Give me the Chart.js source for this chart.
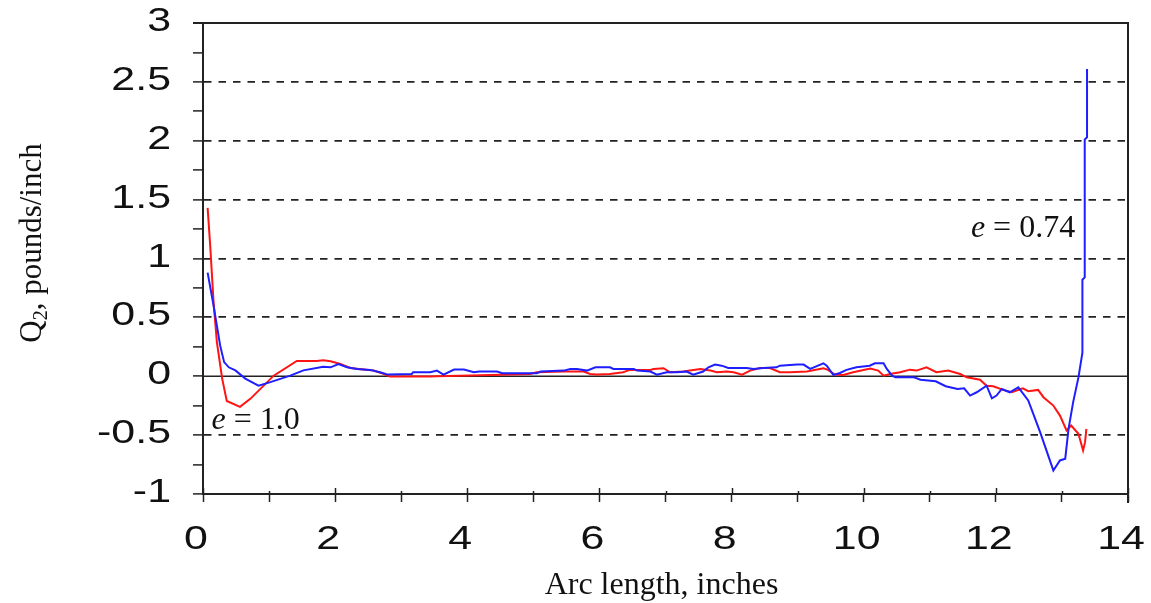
<!DOCTYPE html>
<html>
<head>
<meta charset="utf-8">
<script src="https://cdn.jsdelivr.net/npm/chart.js@4.4.1/dist/chart.umd.min.js"></script>
<style>
    html, body { margin: 0; padding: 0; background: #fff; }
    #wrap { width: 1151px; height: 603px; position: relative; }
</style>
</head>
<body>
<div id="wrap"><canvas id="q2-chart"></canvas></div>
<script>
// e = 0.74 curve (blue)
const blueX = [0.07, 0.16, 0.21, 0.26, 0.32, 0.39, 0.49, 0.64, 0.84, 1.02, 1.32, 1.52, 1.82, 1.93, 2.05, 2.18,
    2.33, 2.53, 2.68, 2.80, 3.16, 3.18, 3.44, 3.54, 3.64, 3.80, 3.95, 4.10, 4.18, 4.45, 4.53, 5.05, 5.11, 5.46,
    5.56, 5.66, 5.81, 5.94, 6.16, 6.21, 6.52, 6.57, 6.77, 6.87, 7.02, 7.17, 7.32, 7.42, 7.57, 7.65, 7.75, 7.85,
    7.95, 8.23, 8.33, 8.48, 8.68, 8.73, 8.99, 9.09, 9.19, 9.39, 9.44, 9.54, 9.64, 9.74, 9.89, 10.09, 10.17, 10.30,
    10.35, 10.43, 10.48, 10.76, 10.86, 11.09, 11.24, 11.42, 11.52, 11.61, 11.71, 11.86, 11.94, 12.01, 12.09,
    12.21, 12.34, 12.49, 12.67, 12.87, 12.97, 13.05, 13.10, 13.17, 13.25, 13.31, 13.31, 13.345, 13.345, 13.38, 13.38];
const blueY = [0.88, 0.60, 0.43, 0.26, 0.12, 0.076, 0.05, -0.02, -0.08, -0.05, 0.005, 0.05, 0.08, 0.076, 0.104, 0.076,
    0.062, 0.054, 0.034, 0.014, 0.02, 0.034, 0.034, 0.048, 0.014, 0.057, 0.057, 0.034, 0.04, 0.04, 0.025, 0.025, 0.04, 0.048,
    0.062, 0.062, 0.048, 0.076, 0.076, 0.062, 0.062, 0.048, 0.04, 0.014, 0.034, 0.034, 0.04, 0.014, 0.04, 0.076, 0.099, 0.09,
    0.07, 0.07, 0.062, 0.07, 0.076, 0.09, 0.099, 0.099, 0.062, 0.11, 0.09, 0.012, 0.028, 0.054, 0.076, 0.09, 0.11, 0.11,
    0.062, 0.005, -0.009, -0.009, -0.029, -0.043, -0.085, -0.108, -0.102, -0.164, -0.136, -0.08, -0.187, -0.164, -0.108,
    -0.136, -0.094, -0.206, -0.475, -0.80, -0.715, -0.70, -0.447, -0.22, -0.01, 0.20, 0.82, 0.84, 2.01, 2.03, 2.61];

// e = 1.0 curve (red)
const redX = [0.07, 0.11, 0.16, 0.21, 0.29, 0.36, 0.56, 0.72, 1.07, 1.42, 1.72, 1.82, 1.93, 2.08, 2.23, 2.43, 2.58,
    2.73, 2.83, 3.44, 3.54, 4.05, 4.95, 5.05, 5.46, 5.76, 5.86, 5.96, 6.16, 6.36, 6.46, 6.77, 6.82, 6.97, 7.07, 7.27,
    7.37, 7.53, 7.68, 7.78, 7.93, 8.03, 8.16, 8.28, 8.43, 8.58, 8.73, 8.88, 9.14, 9.39, 9.46, 9.56, 9.69, 9.84, 10.10,
    10.22, 10.30, 10.40, 10.55, 10.70, 10.80, 10.95, 11.10, 11.28, 11.46, 11.56, 11.76, 11.86, 11.96, 12.11, 12.24,
    12.41, 12.49, 12.64, 12.72, 12.87, 12.97, 13.07, 13.14, 13.25, 13.32, 13.35, 13.37];
const redY = [1.43, 1.10, 0.63, 0.29, -0.02, -0.21, -0.26, -0.19, 0.005, 0.13, 0.13, 0.135, 0.127, 0.104, 0.07, 0.057, 0.048,
    0.02, -0.003, -0.003, 0, 0.006, 0.02, 0.034, 0.04, 0.04, 0.02, 0.014, 0.02, 0.034, 0.054, 0.054, 0.062, 0.068, 0.034, 0.04,
    0.048, 0.062, 0.048, 0.034, 0.04, 0.034, 0.014, 0.048, 0.07, 0.07, 0.034, 0.034, 0.04, 0.068, 0.054, 0.014, 0.011, 0.034, 0.065,
    0.048, 0.005, 0.019, 0.034, 0.056, 0.048, 0.076, 0.034, 0.048, 0.019, -0.009, -0.029, -0.08, -0.085, -0.116, -0.136,
    -0.102, -0.127, -0.116, -0.178, -0.249, -0.334, -0.46, -0.418, -0.489, -0.63, -0.56, -0.447];

// tick labels
const yTickValues = [-1, -0.5, 0, 0.5, 1, 1.5, 2, 2.5, 3];
const xTickValues = [0, 2, 4, 6, 8, 10, 12, 14];

const xTitle = 'Arc length, inches';
const yTitleMain = 'Q';
const yTitleSub = '2';
const yTitleRest = ', pounds/inch';

const SANS = '"Liberation Sans", Arial, sans-serif';
const SERIF = '"Liberation Serif", "Times New Roman", serif';

function toPoints(xs, ys) {
    return xs.map((x, i) => ({ x: x, y: ys[i] }));
}

function isHalf(v) {
    return Math.round(v * 4) % 2 === 0;
}

function drawELabel(ctx, rest, px, py, alignRight) {
    ctx.font = 'italic 32px ' + SERIF;
    const we = ctx.measureText('e').width;
    ctx.font = '32px ' + SERIF;
    const wr = ctx.measureText(rest).width;
    const left = alignRight ? px - we - wr : px;
    ctx.font = 'italic 32px ' + SERIF;
    ctx.fillText('e', left, py);
    ctx.font = '32px ' + SERIF;
    ctx.fillText(rest, left + we, py);
}

// draws the frame, zero line and all the text
const framePlugin = {
    id: 'framePlugin',
    beforeDatasetsDraw(chart) {
        const { ctx, chartArea: a, scales: { x, y } } = chart;
        ctx.save();
        // zero line
        const y0 = y.getPixelForValue(0);
        ctx.strokeStyle = '#222';
        ctx.lineWidth = 1.6;
        ctx.beginPath();
        ctx.moveTo(a.left, y0);
        ctx.lineTo(a.right, y0);
        ctx.stroke();
        // top and right border
        ctx.strokeStyle = '#222';
        ctx.lineWidth = 2;
        ctx.beginPath();
        ctx.moveTo(a.left - 10, a.top);
        ctx.lineTo(a.right, a.top);
        ctx.lineTo(a.right, a.bottom + 9);
        ctx.stroke();
        // inner parts of the x ticks
        ctx.lineWidth = 1.5;
        x.ticks.forEach(t => {
            const px = Math.round(x.getPixelForValue(t.value)) + 0.5;
            const len = t.value % 2 === 0 ? 6 : 3;
            ctx.beginPath();
            ctx.moveTo(px, a.bottom);
            ctx.lineTo(px, a.bottom - len);
            ctx.stroke();
        });
        ctx.restore();
    },
    afterDraw(chart) {
        const { ctx, chartArea: a, scales: { x, y } } = chart;
        ctx.save();
        ctx.fillStyle = '#111';
        ctx.font = '33px ' + SANS;
        ctx.textBaseline = 'middle';

        // y tick labels (wide sans, stretched like the original)
        ctx.textAlign = 'right';
        yTickValues.forEach(v => {
            ctx.save();
            ctx.translate(171, y.getPixelForValue(v) - 1);
            ctx.scale(1.3, 1);
            ctx.fillText(String(v), 0, 0);
            ctx.restore();
        });

        // x tick labels
        ctx.textAlign = 'center';
        xTickValues.forEach(v => {
            ctx.save();
            ctx.translate(x.getPixelForValue(v) - 7, 540);
            ctx.scale(1.3, 1);
            ctx.fillText(String(v), 0, 0);
            ctx.restore();
        });

        // x title
        ctx.textBaseline = 'alphabetic';
        ctx.font = '32px ' + SERIF;
        ctx.textAlign = 'center';
        ctx.fillText(xTitle, (a.left + a.right) / 2 - 4, 594);

        // y title with subscript
        ctx.textAlign = 'left';
        ctx.translate(41, 243);
        ctx.rotate(-Math.PI / 2);
        ctx.font = '31px ' + SERIF;
        const wQ = ctx.measureText(yTitleMain).width;
        const wRest = ctx.measureText(yTitleRest).width;
        ctx.font = '20px ' + SERIF;
        const wSub = ctx.measureText(yTitleSub).width;
        const start = -(wQ + wSub + wRest) / 2;
        ctx.font = '31px ' + SERIF;
        ctx.fillText(yTitleMain, start, 0);
        ctx.font = '20px ' + SERIF;
        ctx.fillText(yTitleSub, start + wQ, 6);
        ctx.font = '31px ' + SERIF;
        ctx.fillText(yTitleRest, start + wQ + wSub, 0);
        ctx.restore();

        // curve labels
        ctx.save();
        ctx.fillStyle = '#111';
        ctx.textBaseline = 'alphabetic';
        ctx.textAlign = 'left';
        drawELabel(ctx, ' = 1.0', x.getPixelForValue(0.13), y.getPixelForValue(-0.45), false);
        drawELabel(ctx, ' = 0.74', x.getPixelForValue(13.2), y.getPixelForValue(1.18), true);
        ctx.restore();
    }
};

const ctx = document.getElementById('q2-chart').getContext('2d');
const q2Chart = new Chart(ctx, {
    type: 'line',
    data: {
        datasets: [
            {
                label: 'e = 0.74',
                data: toPoints(blueX, blueY),
                borderColor: 'rgb(30, 30, 255)',
                borderWidth: 2,
                pointRadius: 0,
                tension: 0
            },
            {
                label: 'e = 1.0',
                data: toPoints(redX, redY),
                borderColor: 'rgb(255, 20, 20)',
                borderWidth: 2,
                pointRadius: 0,
                tension: 0
            }
        ]
    },
    options: {
        responsive: true,
        maintainAspectRatio: false,
        animation: false,
        layout: {
            padding: { left: 193, right: 23, top: 23, bottom: 101 }
        },
        plugins: {
            legend: { display: false },
            tooltip: { enabled: false }
        },
        scales: {
            x: {
                type: 'linear',
                min: 0,
                max: 14,
                ticks: { display: false, stepSize: 1 },
                grid: {
                    drawOnChartArea: false,
                    tickLength: 8,
                    tickWidth: 1.5,
                    tickColor: '#222'
                },
                border: { color: '#222', width: 2 }
            },
            y: {
                type: 'linear',
                min: -1,
                max: 3,
                ticks: { display: false, stepSize: 0.25 },
                grid: {
                    color: function(context) {
                        const v = context.tick ? context.tick.value : 0;
                        if (!isHalf(v) || Math.abs(v) < 1e-6 || v >= 3 || v <= -1) {
                            return 'rgba(0,0,0,0)';
                        }
                        return '#222';
                    },
                    lineWidth: 1.8,
                    tickLength: 10,
                    tickWidth: 1.5,
                    tickColor: '#222'
                },
                border: { color: '#222', width: 2, dash: [7.5, 7] }
            }
        }
    },
    plugins: [framePlugin]
});
</script>
</body>
</html>
